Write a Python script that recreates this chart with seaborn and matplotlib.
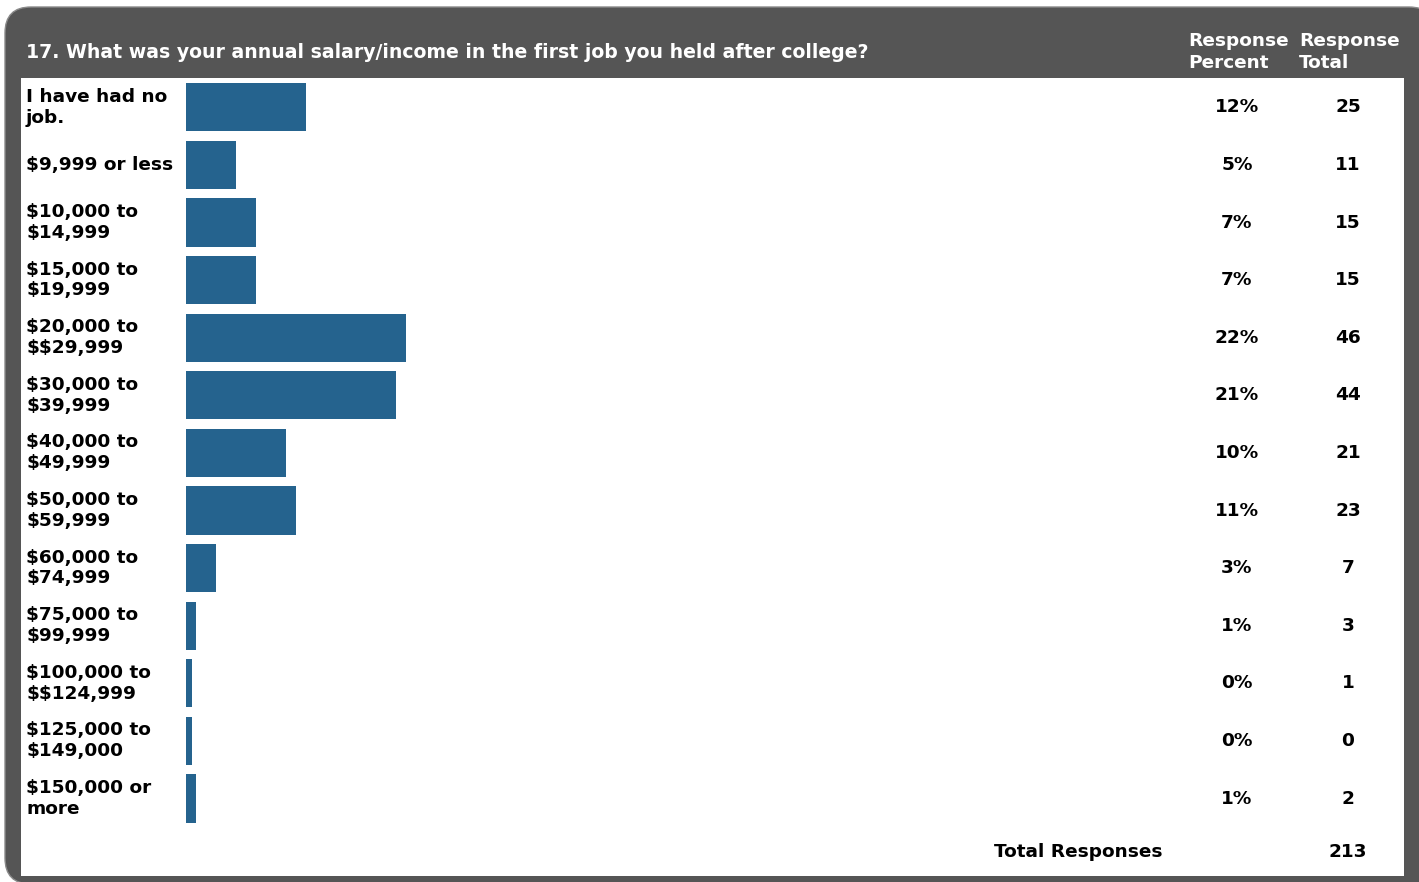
import matplotlib
matplotlib.use("Agg")
import matplotlib.pyplot as plt
import matplotlib.transforms as mtransforms
from matplotlib.patches import FancyBboxPatch, Rectangle
import seaborn as sns
import numpy as np

sns.set_theme(style="white")
plt.rcParams["font.family"] = ["DejaVu Sans"]
plt.rcParams["text.parse_math"] = False

question = "17. What was your annual salary/income in the first job you held after college?"
answers = [
    "I have had no\njob.",
    "$9,999 or less",
    "$10,000 to\n$14,999",
    "$15,000 to\n$19,999",
    "$20,000 to\n$$29,999",
    "$30,000 to\n$39,999",
    "$40,000 to\n$49,999",
    "$50,000 to\n$59,999",
    "$60,000 to\n$74,999",
    "$75,000 to\n$99,999",
    "$100,000 to\n$$124,999",
    "$125,000 to\n$149,000",
    "$150,000 or\nmore",
]
percents = [12, 5, 7, 7, 22, 21, 10, 11, 3, 1, 0, 0, 1]
totals = [25, 11, 15, 15, 46, 44, 21, 23, 7, 3, 1, 0, 2]
total_responses = 213

W, H = 1419, 882
BAR = "#25638E"
FRAME = "#555555"

fig = plt.figure(figsize=(W / 100, H / 100), dpi=100)
fig.patch.set_facecolor("white")
ident = mtransforms.IdentityTransform()

# dark rounded frame + white panel (pixel coords, y from top)
frame = FancyBboxPatch((5, H - 884), 1430, 877, boxstyle="round,pad=0,rounding_size=26",
                       transform=ident, facecolor=FRAME, edgecolor="#8a8a8a", linewidth=1,
                       zorder=-2)
fig.patches.append(frame)
panel = Rectangle((21, H - 876), 1383, 798, transform=ident, facecolor="white",
                  edgecolor="none", zorder=-1)
fig.patches.append(panel)

# bar axes: 10 px per percent, 13 rows of 57.6 px
ax = fig.add_axes([186 / W, (H - 827.3) / H, 1000 / W, 748.8 / H])
ax.patch.set_alpha(0)
bar_len = np.maximum(np.array(percents, dtype=float), 0.6)
sns.barplot(x=bar_len, y=list(range(len(answers))), orient="h", color=BAR,
            saturation=1, width=0.84, linewidth=0, edgecolor="none", ax=ax)
ax.set_xlim(0, 100)
ax.set_ylim(len(answers) - 0.5, -0.5)
ax.set_axis_off()

blend = mtransforms.blended_transform_factory(ax.transAxes, ax.transData)
fs = 13.3
for i, lab in enumerate(answers):
    ax.text(-0.16, i, lab, transform=blend, ha="left", va="center",
            fontsize=fs, fontweight="bold", color="black", linespacing=1.2)
    ax.text(1.051, i, f"{percents[i]}%", transform=blend, ha="center", va="center",
            fontsize=fs, fontweight="bold", color="black")
    ax.text(1.162, i, f"{totals[i]}", transform=blend, ha="center", va="center",
            fontsize=fs, fontweight="bold", color="black")

ax.text(1.162, len(answers) - 0.5 + 25 / 57.6, f"{total_responses}", transform=blend,
        ha="center", va="center", fontsize=fs, fontweight="bold", color="black")
ax.text(0.977, len(answers) - 0.5 + 25 / 57.6, "Total Responses", transform=blend,
        ha="right", va="center", fontsize=fs, fontweight="bold", color="black")

# header
fig.text(26 / W, 1 - 52 / H, question, ha="left", va="center", fontsize=13.6,
         fontweight="bold", color="white")
fig.text(1188 / W, 1 - 52 / H, "Response\nPercent", ha="left", va="center", fontsize=fs,
         fontweight="bold", color="white", linespacing=1.25)
fig.text(1299 / W, 1 - 52 / H, "Response\nTotal", ha="left", va="center", fontsize=fs,
         fontweight="bold", color="white", linespacing=1.25)

fig.savefig("out.png", dpi=100)
plt.close(fig)
